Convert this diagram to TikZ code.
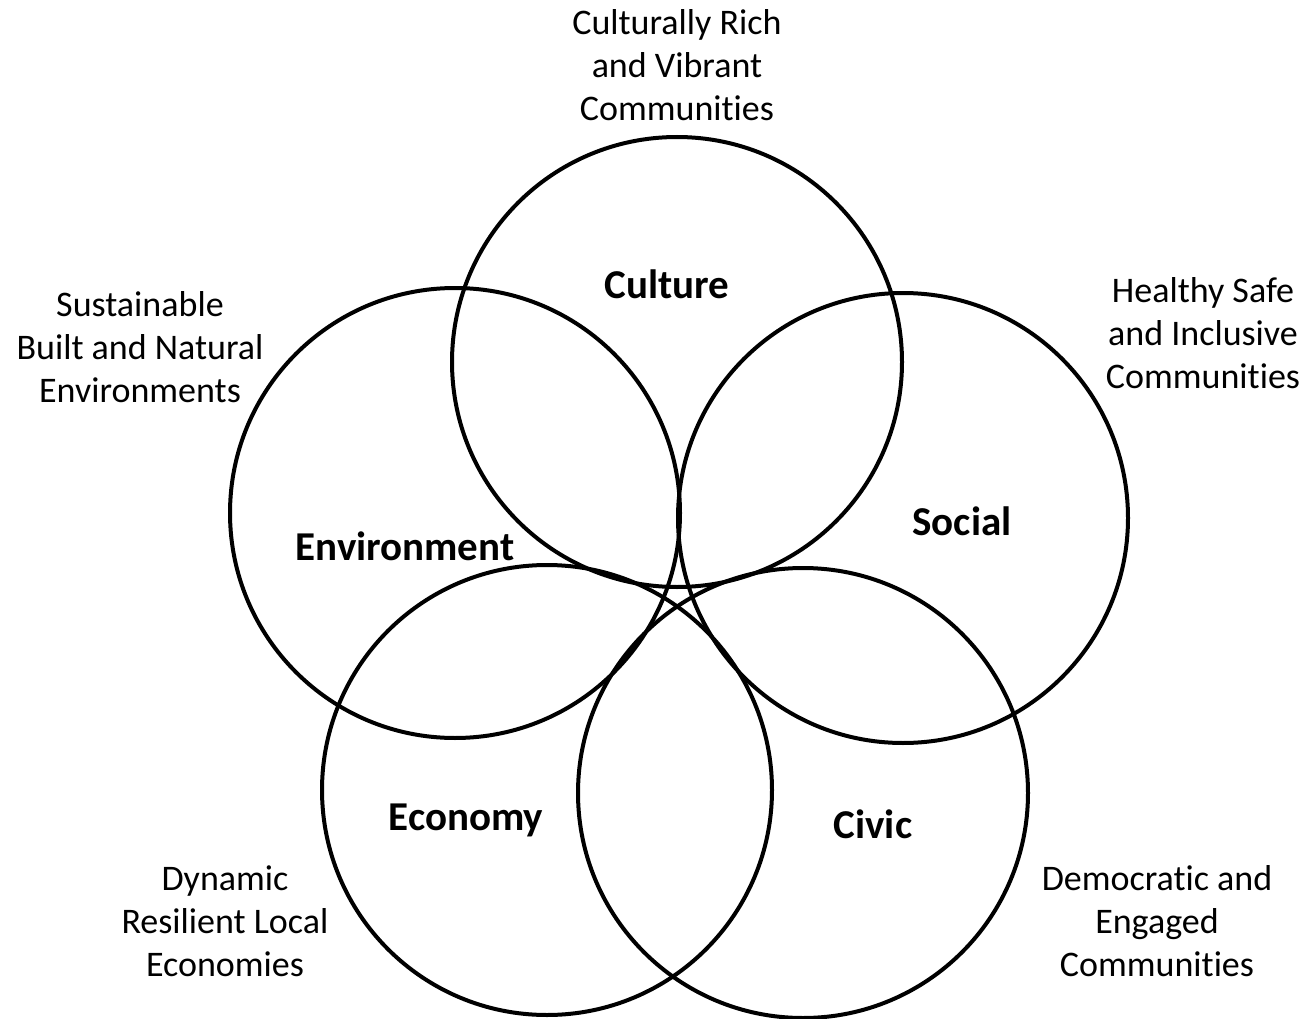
\documentclass[tikz,border=0pt]{standalone}
\usepackage{fontspec}
\setmainfont[Ligatures={NoCommon}]{Carlito}
\usepackage{tikz}

\tikzset{
  ring/.style={draw,circle,line width=4pt,minimum size=450pt,inner sep=0pt},
  area/.style={font=\fontsize{41}{46}\selectfont\bfseries},
  goal/.style={align=center,font=\fontsize{36}{43}\selectfont}
}

\begin{document}
\begin{tikzpicture}[x=1pt,y=-1pt]
\useasboundingbox (0,0) rectangle (1304,1019);
% the five circles
\node[ring] (culture) at (677,362) {};
\node[ring] (environment) at (455,513) {};
\node[ring] (social) at (903,518) {};
\node[ring] (economy) at (547,790) {};
\node[ring] (civic) at (803,793) {};

% area names
\node[area] (culturelbl) at (667,284) {Culture};
\node[area] (environmentlbl) at (405,546) {Environment};
\node[area] (sociallbl) at (962,521) {Social};
\node[area] (economylbl) at (466,820) {Economy};
\node[area] (civiclbl) at (873,824) {Civic};

% outcomes
\node[goal] (culturegoal) at (677,65) {Culturally Rich\\and Vibrant\\Communities};
\node[goal] (environmentgoal) at (140,347) {Sustainable\\Built and Natural\\Environments};
\node[goal] (socialgoal) at (1203,333) {Healthy Safe\\and Inclusive\\Communities};
\node[goal] (economygoal) at (225,921) {Dynamic\\Resilient Local\\Economies};
\node[goal] (civicgoal) at (1157,921) {Democratic and\\Engaged\\Communities};
\end{tikzpicture}
\end{document}
